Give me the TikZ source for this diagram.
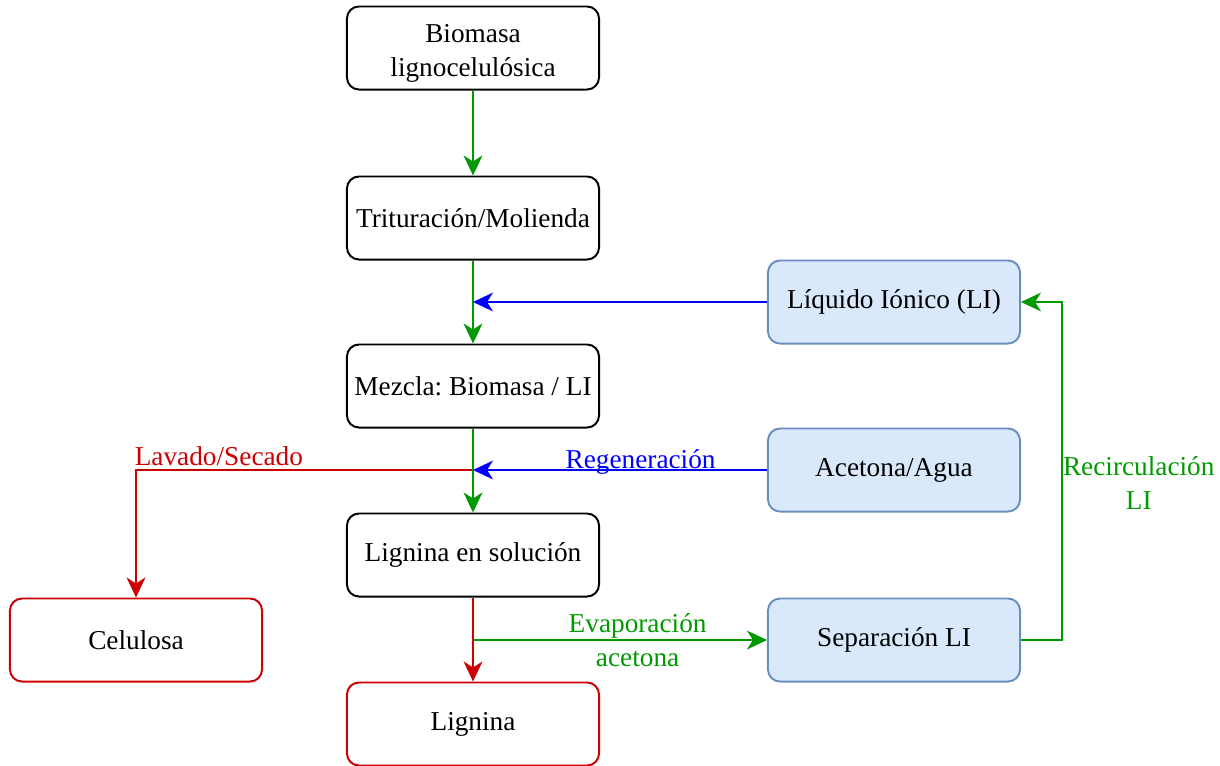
\documentclass[tikz,border=0pt]{standalone}
\usepackage{fontspec}
\setmainfont{Liberation Serif}
\usetikzlibrary{arrows.meta}
\frenchspacing
\definecolor{verde}{HTML}{009900}
\definecolor{azul}{HTML}{0000FF}
\definecolor{rojo}{HTML}{CC0000}
\definecolor{azulclaro}{HTML}{DAE8FC}
\definecolor{bordeazul}{HTML}{6C8EBF}
\tikzset{
  caja/.style={draw, rounded corners=0.3cm, line width=1.4pt, minimum width=6.3cm,
    minimum height=2.075cm, align=center, font=\fontsize{19.4pt}{24.2pt}\selectfont},
  cajanegra/.style={caja, draw=black},
  cajaroja/.style={caja, draw=rojo},
  cajaazul/.style={caja, draw=bordeazul, fill=azulclaro},
  flecha/.style={line width=1.4pt, -{Stealth[length=0.5cm, width=0.47cm, inset=0.15cm]}},
  rotulo/.style={font=\fontsize{19.4pt}{24.2pt}\selectfont, align=center}
}
\begin{document}
\begin{tikzpicture}[x=0.025cm, y=-0.025cm]
  \useasboundingbox (0,0) rectangle (1220,765);
%cajas
  \node[cajanegra, text height=45pt] (biomasa) at (473,48) {Biomasa\\lignocelulósica};
  \node[cajanegra] (tritura) at (473,218) {Trituración/Molienda};
  \node[cajanegra] (mezcla) at (473,386) {Mezcla: Biomasa / LI};
  \node[cajanegra] (solucion) at (473,555) {Lignina en solución};
  \node[cajaroja] (lignina) at (473,724) {Lignina};
  \node[cajaroja] (celulosa) at (136,640) {Celulosa};
  \node[cajaazul] (liquido) at (894,302) {Líquido Iónico (LI)};
  \node[cajaazul] (acetona) at (894,470) {Acetona/Agua};
  \node[cajaazul] (separa) at (894,640) {Separación LI};

%puntos de unión
  \coordinate (j1) at (tritura.south |- liquido.west);
  \coordinate (j2) at (mezcla.south |- acetona.west);
  \coordinate (j3) at (solucion.south |- separa.west);
  \coordinate (r1) at (1062,640);

%conectores
  \draw[flecha, verde] (biomasa) -- (tritura);
  \draw[flecha, verde] (tritura) -- (mezcla);
  \draw[flecha, azul] (liquido) -- (j1);
  \draw[flecha, rojo] (j2) -| node[pos=0.377, above, rotulo, inner sep=2pt] {Lavado/Secado} (celulosa.north);
  \draw[flecha, verde] (mezcla) -- (solucion);
  \draw[flecha, azul] (acetona) -- node[pos=0.43, above, rotulo, inner sep=0pt, yshift=-4pt] {Regeneración} (j2);
  \draw[flecha, rojo] (solucion) -- (lignina);
  \draw[flecha, verde] (j3) -- node[pos=0.56, rotulo] {Evaporación\\acetona} (separa);
  \draw[flecha, verde] (separa.east) -- (r1) |- node[pos=0.232, anchor=west, rotulo, inner sep=0pt] {Recirculación\\LI} (liquido.east);
\end{tikzpicture}
\end{document}
